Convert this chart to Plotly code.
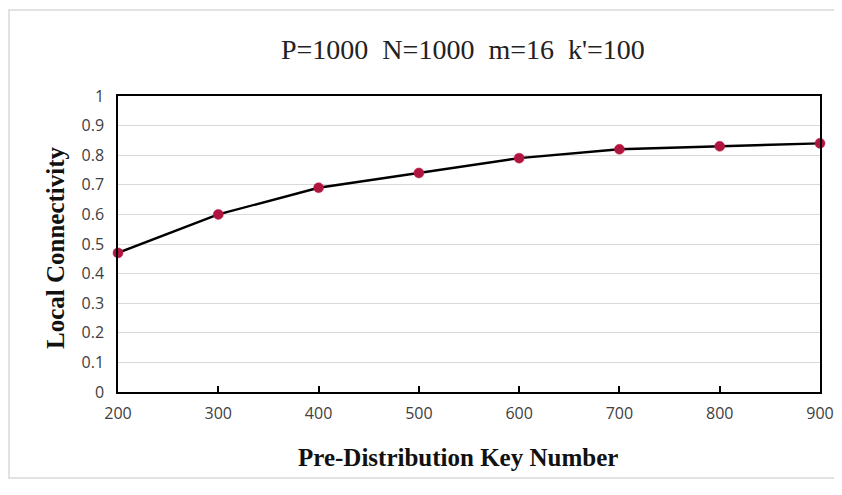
import plotly.graph_objects as go

key_numbers = [200, 300, 400, 500, 600, 700, 800, 900]
connectivity = [0.47, 0.60, 0.69, 0.74, 0.79, 0.82, 0.83, 0.84]
y_ticks = [0, 0.1, 0.2, 0.3, 0.4, 0.5, 0.6, 0.7, 0.8, 0.9, 1]
y_tick_labels = ["0", "0.1", "0.2", "0.3", "0.4", "0.5", "0.6", "0.7", "0.8", "0.9", "1"]

OFF = 8  # default page body margin
W, H = 842 - 2 * OFF, 495 - 2 * OFF - 8
# plot area in page pixels
L, R, T, B = 118, 820, 96, 392

def px(x):
    return (x - L) / (R - L)

def py(y):
    return (B - y) / (B - T)

fig = go.Figure()
fig.add_trace(go.Scatter(
    x=key_numbers, y=connectivity, mode="lines+markers",
    line=dict(color="black", width=2.4),
    marker=dict(color="#B0153F", size=10, line=dict(color="#C0204A", width=0.5)),
    cliponaxis=False, showlegend=False,
))

tick_font = dict(family="Open Sans", size=16, color="#404040")
serif_bold = dict(family="Liberation Serif", size=25, color="#111111")

fig.update_layout(
    width=W, height=H,
    margin=dict(l=L - OFF, r=(OFF + W) - R, t=T - OFF, b=(OFF + H) - B, autoexpand=False),
    paper_bgcolor="white", plot_bgcolor="white",
    xaxis=dict(range=[200, 900], tickvals=key_numbers, ticks="inside", ticklen=6,
               tickcolor="black", tickwidth=1.5, showgrid=False, zeroline=False,
               showline=True, linecolor="black", linewidth=1.5, mirror=True,
               tickfont=tick_font, ticklabelstandoff=6, automargin=False),
    yaxis=dict(range=[0, 1], tickvals=y_ticks, ticktext=y_tick_labels, ticks="",
               showgrid=True, gridcolor="#D9D9D9", gridwidth=1, zeroline=False,
               showline=True, linecolor="black", linewidth=1.5, mirror=True,
               tickfont=tick_font, ticklabelstandoff=9, automargin=False),
    annotations=[
        dict(text="P=1000  N=1000  m=16  k'=100", xref="paper", yref="paper",
             x=px(463), y=py(49), xanchor="center", yanchor="middle", showarrow=False,
             font=dict(family="Liberation Serif", size=28, color="#222222")),
        dict(text="<b>Pre-Distribution Key Number</b>", xref="paper", yref="paper",
             x=px(458), y=py(457), xanchor="center", yanchor="middle", showarrow=False,
             font=serif_bold),
        dict(text="<b>Local Connectivity</b>", xref="paper", yref="paper",
             x=px(55), y=py(248), xanchor="center", yanchor="middle", showarrow=False,
             textangle=-90, font=serif_bold),
    ],
    shapes=[dict(type="rect", xref="paper", yref="paper",
                 x0=px(OFF + 1), x1=px(850), y0=py(OFF + H - 1), y1=py(10),
                 line=dict(color="#D9D9D9", width=1.5), layer="below")],
)

fig.write_html("out.html")
